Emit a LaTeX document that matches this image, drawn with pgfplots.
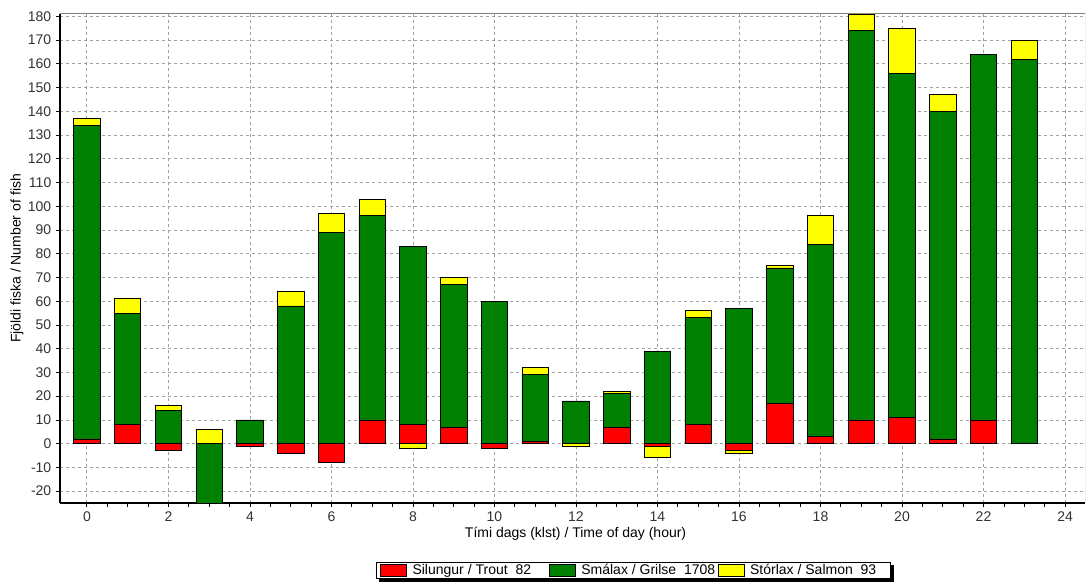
\documentclass[border=0pt]{standalone}
\usepackage{pgfplots}
\pgfplotsset{compat=1.18}
\usepackage{fontspec}
\setmainfont{Liberation Sans}

\definecolor{trout}{RGB}{255,0,0}
\definecolor{grilse}{RGB}{0,128,0}
\definecolor{salmon}{RGB}{255,255,0}
\definecolor{gridgray}{RGB}{160,160,160}
\definecolor{txt}{RGB}{51,51,51}

\pgfplotsset{
  fishbase/.style={
    width=768.75pt, height=366.75pt, scale only axis,
    xmin=-0.66, xmax=24.49, ymin=-25, ymax=181,
    ybar stacked, bar width=0.65,
  },
  fishbar/.style={fill=#1, draw=black, line width=0.6pt},
}

\begin{document}
\begin{tikzpicture}[font=\fontsize{10.5}{12}\selectfont]
\begin{axis}[fishbase,
  axis x line*=bottom, axis y line*=left,
  axis line style={line width=1.5pt, black, -},
  xtick={0,2,...,24}, minor x tick num=3,
  ytick={-20,-10,...,180},
  tick align=outside,
  major tick length=3pt, minor tick length=3pt,
  tick style={black, line width=0.6pt},
  grid=major,
  major grid style={gridgray, dash pattern=on 2.25pt off 2.25pt, line width=0.6pt},
  ticklabel style={text=txt},
  label style={text=txt},
  /pgf/number format/assume math mode=true,
  xlabel={Tími dags (klst) / Time of day (hour)},
  ylabel={Fjöldi fiska / Number of fish},
  every axis x label/.style={at={(axis description cs:0.503,-0.0634)}, anchor=center},
  every axis y label/.style={at={(axis description cs:-0.042,0.5)}, anchor=center, rotate=90},
  legend columns=3,
  legend cell align=left,
  legend style={name=leg, at={(rel axis cs:0.3083,-0.1207)}, anchor=north west,
    draw=black, line width=0.6pt, fill=white,
    inner xsep=3pt, inner ysep=0pt,
    nodes={inner sep=0pt, text=black, text height=9.1pt, text depth=3.1pt},
    column sep=0pt},
  legend image code/.code={\draw[#1, draw=black, line width=0.6pt] (0pt,-4.5pt) rectangle (19.5pt,4.5pt);},
]
\coordinate (A) at (rel axis cs:0,0);

% positive parts, hours 0-23
\addplot[fishbar=trout] coordinates {
(0,2) (1,8) (2,0) (3,0) (4,0) (5,0) (6,0) (7,10) (8,8) (9,7) (10,0) (11,1)
(12,0) (13,7) (14,0) (15,8) (16,0) (17,17) (18,3) (19,10) (20,11) (21,2) (22,10) (23,0)};
\addlegendentry{\hspace{4pt}\makebox[102.5pt][l]{Silungur / Trout~~82}}

\addplot[fishbar=grilse] coordinates {
(0,132) (1,47) (2,14) (3,0) (4,10) (5,58) (6,89) (7,86) (8,75) (9,60) (10,60) (11,28)
(12,18) (13,14) (14,39) (15,45) (16,57) (17,57) (18,81) (19,164) (20,145) (21,138) (22,154) (23,162)};
\addlegendentry{\hspace{4pt}\makebox[102.5pt][l]{Smálax / Grilse~~1708}}

\addplot[fishbar=salmon] coordinates {
(0,3) (1,6) (2,2) (3,6) (4,0) (5,6) (6,8) (7,7) (8,0) (9,3) (10,0) (11,3)
(12,0) (13,1) (14,0) (15,3) (16,0) (17,1) (18,12) (19,7) (20,19) (21,7) (22,0) (23,8)};
\addlegendentry{\hspace{4pt}\makebox[102.5pt][l]{Stórlax / Salmon~~93}}

\draw[gray, line width=0.75pt] (rel axis cs:0,1) -- (rel axis cs:1,1) -- (rel axis cs:1,0);
\end{axis}

% negative parts
\begin{axis}[fishbase, hide axis]
\addplot[fishbar=trout] coordinates {
(2,-3) (3,0) (4,-1) (5,-4) (6,-8) (8,0) (10,-2) (12,0) (14,-1) (16,-3)};
\addplot[fishbar=grilse] coordinates {
(2,0) (3,-25) (4,0) (5,0) (6,0) (8,0) (10,0) (12,0) (14,0) (16,0)};
\addplot[fishbar=salmon] coordinates {
(2,0) (3,0) (4,0) (5,0) (6,0) (8,-2) (10,0) (12,-1) (14,-5) (16,-1)};
\end{axis}

% legend shadow
\fill[black] ([xshift=2.25pt,yshift=-2.25pt]leg.south west) rectangle ([xshift=2.25pt]leg.south east);
\fill[black] ([yshift=-2.25pt]leg.south east) rectangle ([xshift=2.25pt,yshift=-2.25pt]leg.north east);

\pgfresetboundingbox
\path[use as bounding box] ([shift={(-45pt,-60.75pt)}]A) rectangle ([shift={(771pt,377.25pt)}]A);
\end{tikzpicture}
\end{document}
